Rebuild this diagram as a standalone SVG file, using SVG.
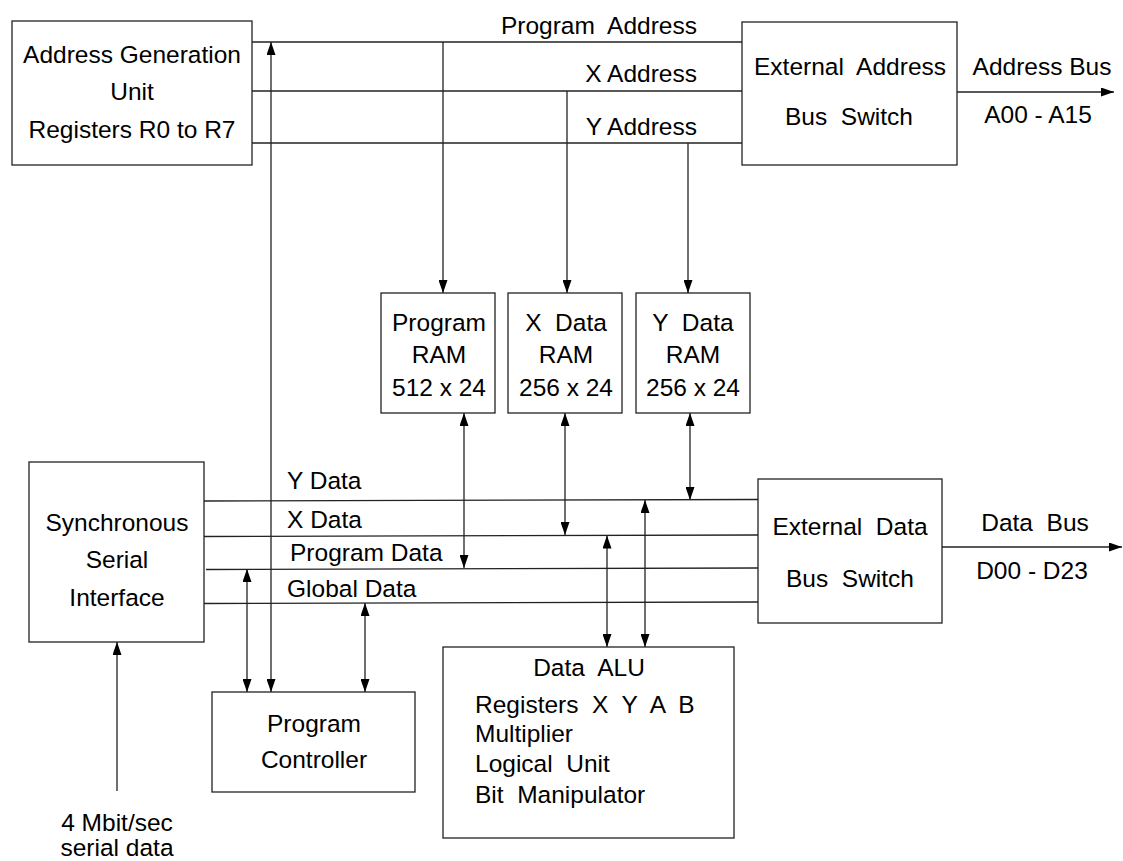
<svg xmlns="http://www.w3.org/2000/svg" width="1123" height="861" viewBox="0 0 1123 861" xml:space="preserve">
<style>
.box{fill:#fff;stroke:#222;stroke-width:1.3}
.ln{fill:none;stroke:#222;stroke-width:1.3}
.t{font-family:"Liberation Sans",Arial,sans-serif;font-size:24.5px;fill:#000;white-space:pre}
.c{text-anchor:middle}
.e{text-anchor:end}
</style>
<defs>
<marker id="ah" markerUnits="userSpaceOnUse" markerWidth="13" markerHeight="9" refX="13" refY="4.5" orient="auto-start-reverse" viewBox="0 0 13 9">
<path d="M0,0 L13,4.5 L0,9 z" fill="#000"/>
</marker>
</defs>
<rect width="1123" height="861" fill="#fff"/>
<g id="connectors">
<line class="ln" x1="252" y1="42" x2="742" y2="42"/>
<line class="ln" x1="252" y1="91" x2="742" y2="91"/>
<line class="ln" x1="252" y1="143" x2="742" y2="143"/>
<line class="ln" x1="957" y1="92" x2="1114" y2="92" marker-end="url(#ah)"/>
<line class="ln" x1="443" y1="42" x2="443" y2="293" marker-end="url(#ah)"/>
<line class="ln" x1="567" y1="91" x2="567" y2="293" marker-end="url(#ah)"/>
<line class="ln" x1="688" y1="143" x2="688" y2="293" marker-end="url(#ah)"/>
<line class="ln" x1="271" y1="42" x2="271" y2="692" marker-start="url(#ah)" marker-end="url(#ah)"/>
<line class="ln" x1="464" y1="413" x2="464" y2="568" marker-start="url(#ah)" marker-end="url(#ah)"/>
<line class="ln" x1="565" y1="413" x2="565" y2="535" marker-start="url(#ah)" marker-end="url(#ah)"/>
<line class="ln" x1="690" y1="413" x2="690" y2="500" marker-start="url(#ah)" marker-end="url(#ah)"/>
<line class="ln" x1="204" y1="501" x2="758" y2="499.5"/>
<line class="ln" x1="204" y1="536.5" x2="758" y2="535"/>
<line class="ln" x1="206" y1="569.5" x2="758" y2="568"/>
<line class="ln" x1="204" y1="603.5" x2="758" y2="602"/>
<line class="ln" x1="942" y1="547" x2="1122" y2="547" marker-end="url(#ah)"/>
<line class="ln" x1="607" y1="535.5" x2="607" y2="647" marker-start="url(#ah)" marker-end="url(#ah)"/>
<line class="ln" x1="645" y1="500" x2="645" y2="647" marker-start="url(#ah)" marker-end="url(#ah)"/>
<line class="ln" x1="247" y1="569" x2="247" y2="692" marker-start="url(#ah)" marker-end="url(#ah)"/>
<line class="ln" x1="365" y1="603" x2="365" y2="692" marker-start="url(#ah)" marker-end="url(#ah)"/>
<line class="ln" x1="117" y1="791" x2="117" y2="642" marker-end="url(#ah)"/>
<text class="t e" x="697" y="34">Program  Address</text>
<text class="t e" x="697" y="82">X Address</text>
<text class="t e" x="697" y="135">Y Address</text>
<text class="t c" x="1042" y="75">Address Bus</text>
<text class="t c" x="1038" y="123">A00 - A15</text>
<text class="t" x="287" y="489">Y Data</text>
<text class="t" x="287" y="528">X Data</text>
<text class="t" x="290" y="561">Program Data</text>
<text class="t" x="287" y="597">Global Data</text>
<text class="t c" x="1035" y="531">Data  Bus</text>
<text class="t c" x="1032" y="579">D00 - D23</text>
<text class="t c" x="117" y="831">4 Mbit/sec</text>
<text class="t c" x="117" y="856">serial data</text>
</g>
<g id="agu">
<rect class="box" x="12" y="21" width="240" height="144"/>
<text class="t c" x="132" y="63">Address Generation</text>
<text class="t c" x="132" y="100">Unit</text>
<text class="t c" x="132" y="138">Registers R0 to R7</text>
</g>
<g id="ext-addr">
<rect class="box" x="742" y="22" width="215" height="143"/>
<text class="t c" x="850" y="75">External  Address</text>
<text class="t c" x="849" y="125">Bus  Switch</text>
</g>
<g id="pram">
<rect class="box" x="381" y="293" width="114" height="120"/>
<text class="t c" x="439" y="331">Program</text>
<text class="t c" x="439" y="363">RAM</text>
<text class="t c" x="439" y="396">512 x 24</text>
</g>
<g id="xram">
<rect class="box" x="508" y="293" width="114" height="120"/>
<text class="t c" x="566" y="331">X  Data</text>
<text class="t c" x="566" y="363">RAM</text>
<text class="t c" x="566" y="396">256 x 24</text>
</g>
<g id="yram">
<rect class="box" x="636" y="293" width="114" height="120"/>
<text class="t c" x="693" y="331">Y  Data</text>
<text class="t c" x="693" y="363">RAM</text>
<text class="t c" x="693" y="396">256 x 24</text>
</g>
<g id="ssi">
<rect class="box" x="29" y="462" width="175" height="180"/>
<text class="t c" x="117" y="531">Synchronous</text>
<text class="t c" x="117" y="568">Serial</text>
<text class="t c" x="117" y="606">Interface</text>
</g>
<g id="ext-data">
<rect class="box" x="758" y="479" width="184" height="144"/>
<text class="t c" x="850" y="535">External  Data</text>
<text class="t c" x="850" y="587">Bus  Switch</text>
</g>
<g id="pc">
<rect class="box" x="212" y="692" width="203" height="100"/>
<text class="t c" x="314" y="732">Program</text>
<text class="t c" x="314" y="768">Controller</text>
</g>
<g id="alu">
<rect class="box" x="443" y="647" width="291" height="191"/>
<text class="t c" x="589" y="676">Data  ALU</text>
<text class="t" x="475" y="713">Registers  X  Y  A  B</text>
<text class="t" x="475" y="742">Multiplier</text>
<text class="t" x="475" y="772">Logical  Unit</text>
<text class="t" x="475" y="803">Bit  Manipulator</text>
</g>
</svg>
